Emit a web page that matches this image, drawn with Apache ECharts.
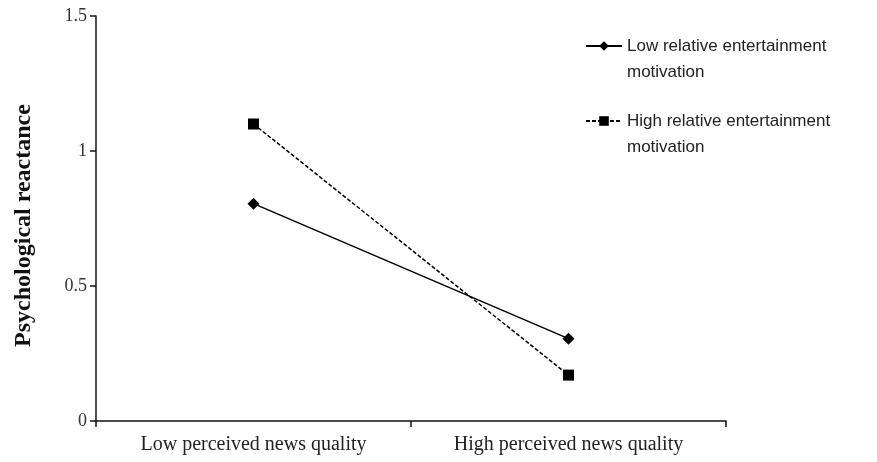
<!DOCTYPE html>
<html>
<head>
<meta charset="utf-8">
<script src="https://cdn.jsdelivr.net/npm/echarts@6/dist/echarts.min.js"></script>
<style>
    html, body {margin: 0; padding: 0; background: #fff;}
    #chart {width: 877px; height: 462px;}
</style>
</head>
<body>
<div id="chart"></div>
<script>
const categories = ['Low perceived news quality', 'High perceived news quality']
const lowMotivation = [0.805, 0.305]
const highMotivation = [1.10, 0.17]
const seriesNames = ['Low relative entertainment\nmotivation', 'High relative entertainment\nmotivation']

const chart = echarts.init(document.getElementById('chart'))

const option = {
    backgroundColor: '#fff',
    animation: false,
    grid: {
        left: 96,
        right: 151,
        top: 16,
        bottom: 41,
    },
    legend: {
        orient: 'vertical',
        left: 580,
        top: 2,
        itemWidth: 36,
        itemHeight: 12,
        itemGap: -3,
        // blank first line so the icon sits beside the first text line
        formatter: (name) => ' \n' + name,
        textStyle: {
            fontFamily: 'Liberation Sans',
            fontSize: 17,
            color: '#222',
            lineHeight: 26,
        },
        data: seriesNames,
    },
    xAxis: {
        type: 'category',
        data: categories,
        boundaryGap: true,
        axisLine: {lineStyle: {color: '#111', width: 1.5}},
        axisTick: {show: true, length: 6, lineStyle: {color: '#111', width: 1.5}},
        axisLabel: {
            fontFamily: 'Liberation Serif',
            fontSize: 20,
            color: '#222',
            margin: 14,
        },
    },
    yAxis: {
        type: 'value',
        min: 0,
        max: 1.5,
        interval: 0.5,
        name: 'Psychological reactance',
        nameLocation: 'middle',
        nameGap: 60,
        nameTextStyle: {
            fontFamily: 'Liberation Serif',
            fontWeight: 'bold',
            fontSize: 24,
            color: '#111',
            padding: [0, 14, 0, 0],
        },
        splitLine: {show: false},
        axisLine: {show: true, lineStyle: {color: '#111', width: 1.5}},
        axisTick: {show: true, length: 6, lineStyle: {color: '#111', width: 1.5}},
        axisLabel: {
            fontFamily: 'Liberation Serif',
            fontSize: 18,
            color: '#333',
            margin: 9,
        },
    },
    series: [
        {
            name: seriesNames[0],
            type: 'line',
            data: lowMotivation,
            symbol: 'diamond',
            symbolSize: 12,
            itemStyle: {color: '#000'},
            lineStyle: {color: '#000', width: 1.5, type: 'solid'},
        },
        {
            name: seriesNames[1],
            type: 'line',
            data: highMotivation,
            symbol: 'rect',
            symbolSize: 11,
            itemStyle: {color: '#000'},
            lineStyle: {color: '#000', width: 1.5, type: [4, 2]},
        },
    ],
}

chart.setOption(option)
</script>
</body>
</html>
